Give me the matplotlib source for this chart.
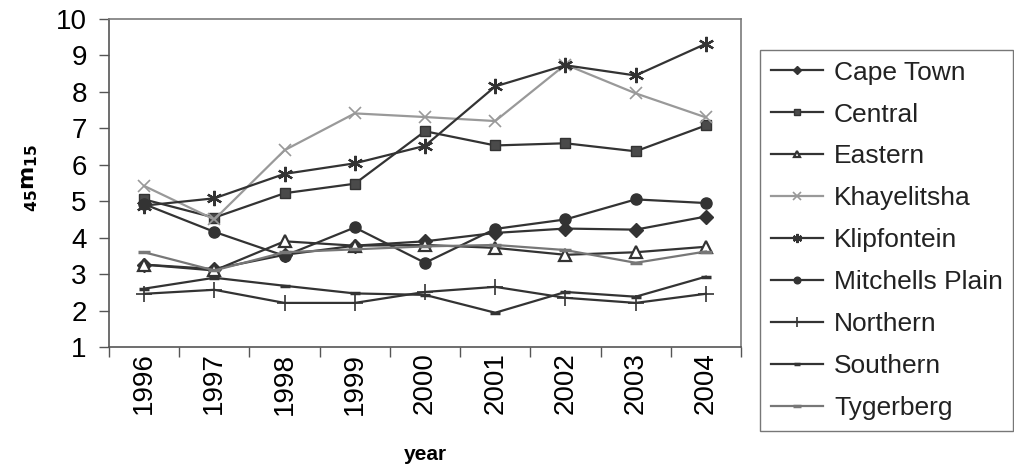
import matplotlib
matplotlib.use("Agg")
import matplotlib.pyplot as plt
import numpy as np

plt.rcParams['font.family'] = ['Liberation Sans', 'DejaVu Sans']

years = ['1996', '1997', '1998', '1999', '2000', '2001', '2002', '2003', '2004']

cape_town = [3.26, 3.14, 3.53, 3.78, 3.90, 4.13, 4.25, 4.22, 4.58]
central = [5.05, 4.55, 5.22, 5.48, 6.92, 6.53, 6.59, 6.37, 7.08]
eastern = [3.26, 3.10, 3.90, 3.78, 3.80, 3.72, 3.53, 3.60, 3.75]
khayelitsha = [5.42, 4.50, 6.40, 7.41, 7.31, 7.20, 8.75, 7.96, 7.30]
klipfontein = [4.88, 5.08, 5.75, 6.04, 6.52, 8.15, 8.73, 8.45, 9.32]
mitchells_plain = [4.92, 4.16, 3.50, 4.28, 3.31, 4.24, 4.50, 5.05, 4.95]
northern = [2.46, 2.57, 2.21, 2.21, 2.51, 2.65, 2.35, 2.21, 2.46]
southern = [2.60, 2.90, 2.68, 2.47, 2.43, 1.94, 2.51, 2.38, 2.93]
tygerberg = [3.60, 3.10, 3.60, 3.68, 3.76, 3.80, 3.66, 3.31, 3.62]

names = ['Cape Town', 'Central', 'Eastern', 'Khayelitsha', 'Klipfontein',
         'Mitchells Plain', 'Northern', 'Southern', 'Tygerberg']
series = [cape_town, central, eastern, khayelitsha, klipfontein,
          mitchells_plain, northern, southern, tygerberg]

dark = '#333333'
styles = [
    dict(color=dark, marker='D', ms=7, mfc=dark, mec=dark),
    dict(color=dark, marker='s', ms=7, mfc='#4a4a4a', mec=dark),
    dict(color=dark, marker='^', ms=8, mfc='white', mec=dark, mew=1.6),
    dict(color='#999999', marker='x', ms=9, mfc='#999999', mec='#999999', mew=1.2),
    dict(color=dark, marker=(6, 2, 0), ms=11, mec=dark, mew=1.6),
    dict(color=dark, marker='o', ms=8, mfc=dark, mec=dark),
    dict(color=dark, marker='+', ms=11, mec=dark, mew=1.2),
    dict(color=dark, marker='_', ms=7, mec=dark, mew=2.5),
    dict(color='#777777', marker='_', ms=9, mec='#777777', mew=2.5),
]

fig = plt.figure(figsize=(10.14, 4.72), dpi=100)
ax = fig.add_axes([109/1014, 1-347/472, (741-109)/1014, (347-19)/472])

x = np.arange(len(years))
handles = []
for name, vals, st in zip(names, series, styles):
    h, = ax.plot(x, vals, lw=1.6, label=name, **st)
    handles.append(h)

ax.set_xlim(-0.5, len(years) - 0.5)
ax.set_ylim(1, 10)
ax.set_yticks(range(1, 11))
ax.set_xticks(x)
ax.set_xticklabels(years, rotation=90, fontsize=20)
ax.set_xticks(np.arange(-0.5, len(years), 1.0), minor=True)
ax.tick_params(axis='x', which='major', length=0, pad=4)
ax.tick_params(axis='x', which='minor', length=7, width=1, color='#555555', direction='out')
ax.tick_params(axis='y', length=7, width=1, color='#555555', labelsize=20, pad=9)

for s in ['left', 'bottom']:
    ax.spines[s].set_color('#555555')
    ax.spines[s].set_linewidth(1.2)
for s in ['top', 'right']:
    ax.spines[s].set_color('#7a7a7a')
    ax.spines[s].set_linewidth(1.2)

ax.set_xlabel('year', fontsize=15, fontweight='bold', labelpad=22)
fig.text(30/1014, 1-178/472, r'$\mathbf{_{45}m_{15}}$', rotation=90,
         fontsize=16, ha='center', va='center')

leg = fig.legend(handles=handles, loc='upper left',
                 bbox_to_anchor=(760/1014, 1-50/472), fontsize=19,
                 frameon=True, fancybox=False, edgecolor='#555555',
                 labelspacing=0.68, handlelength=2.0, handletextpad=0.4,
                 borderpad=0.4, markerscale=0.6, borderaxespad=0)
leg.get_frame().set_linewidth(1.0)
for t in leg.get_texts():
    t.set_color('#222222')

fig.savefig('out.png', dpi=100, facecolor='white')
